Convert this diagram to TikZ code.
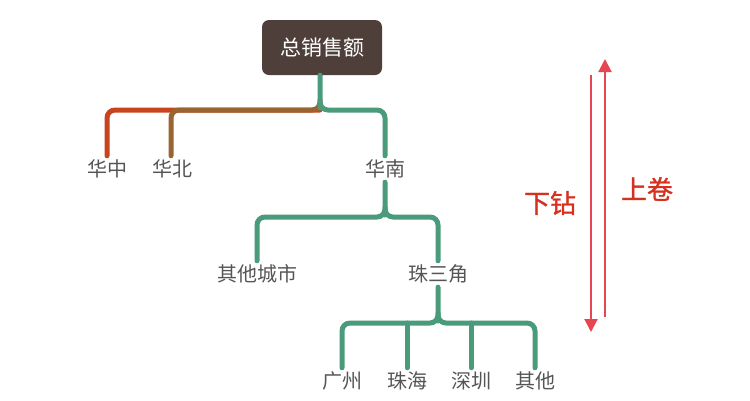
\documentclass[tikz,border=0pt]{standalone}
\usepackage{fontspec}
\setmainfont{Noto Sans CJK SC}
\newfontfamily\labfont[FakeBold=1.2]{Noto Sans CJK SC}
\usetikzlibrary{arrows.meta}
\definecolor{rootfill}{HTML}{4F3F3B}
\definecolor{tgreen}{HTML}{4A9A7C}
\definecolor{tred}{HTML}{C8441F}
\definecolor{tbrown}{HTML}{9A6430}
\definecolor{arrred}{HTML}{E64650}
\definecolor{labred}{HTML}{D6301F}
\definecolor{txtgray}{HTML}{555555}
\tikzset{
  rootbox/.style={fill=rootfill, rounded corners=7pt, minimum width=120pt, minimum height=55pt, inner sep=0pt, text=white, font=\fontsize{21pt}{24pt}\selectfont},
  leaf/.style={text=txtgray, font=\fontsize{20pt}{24pt}\selectfont, text height=18pt, text depth=4pt, inner xsep=0pt, inner ysep=4pt},
  branch/.style={line width=5pt, line cap=round, line join=round, rounded corners=8pt},
  updown/.style={draw=arrred, line width=2pt, -{Triangle[length=13pt,width=13pt]}},
  oplabel/.style={text=labred, font=\labfont\fontsize{26pt}{28pt}\selectfont}
}
\begin{document}
\begin{tikzpicture}[x=1pt,y=-1pt]
\useasboundingbox (0,0) rectangle (750,400);
% nodes
\node[rootbox] (root) at (322,47.5) {总销售额};
\node[leaf] (hz) at (107,169) {华中};
\node[leaf] (hb) at (172,169) {华北};
\node[leaf] (hn) at (385,169) {华南};
\node[leaf] (qt) at (257,274) {其他城市};
\node[leaf] (zsj) at (438,274) {珠三角};
\node[leaf] (gz) at (342,381) {广州};
\node[leaf] (zh) at (407,381) {珠海};
\node[leaf] (sz) at (471,381) {深圳};
\node[leaf] (qo) at (535,381) {其他};
% junctions
\coordinate (j1) at (320,110);
\coordinate (j1a) at (320,100);
\coordinate (j2) at (385,217);
\coordinate (j2a) at (385,207);
\coordinate (j3) at (438,323);
\coordinate (j3a) at (438,313);
% level 1
\draw[branch, tred] (j1) -| ([yshift=-2pt]hz.north -| 107,0);
\draw[branch, tbrown] (j1a) -- (j1) -| ([yshift=-2pt]hb.north -| 171,0);
\draw[branch, tgreen] (root.south -| j1) -- (j1a) -- (j1) -| ([yshift=-2pt]hn.north);
% level 2
\draw[branch, tgreen] ([yshift=2pt]hn.south) -- (j2a) -- (j2) -| ([yshift=-2pt]qt.north);
\draw[branch, tgreen] (j2a) -- (j2) -| ([yshift=-2pt]zsj.north);
% level 3
\draw[branch, tgreen] ([yshift=2pt]zsj.south) -- (j3a) -- (j3) -| ([yshift=-2pt]gz.north);
\draw[branch, tgreen] (j3a) -- (j3) -| ([yshift=-2pt]qo.north);
\draw[branch, tgreen] (zh.north |- j3) -- ([yshift=-2pt]zh.north);
\draw[branch, tgreen] (sz.north |- j3) -- ([yshift=-2pt]sz.north);
% drill arrows
\coordinate (dstart) at (591,75);
\coordinate (dend) at (591,332);
\coordinate (ustart) at (605,317);
\coordinate (uend) at (605,59);
\draw[updown] (dstart) -- (dend);
\draw[updown] (ustart) -- (uend);
\node[oplabel] (down) at (550,203) {下钻};
\node[oplabel] (up) at (647,189) {上卷};
\end{tikzpicture}
\end{document}
